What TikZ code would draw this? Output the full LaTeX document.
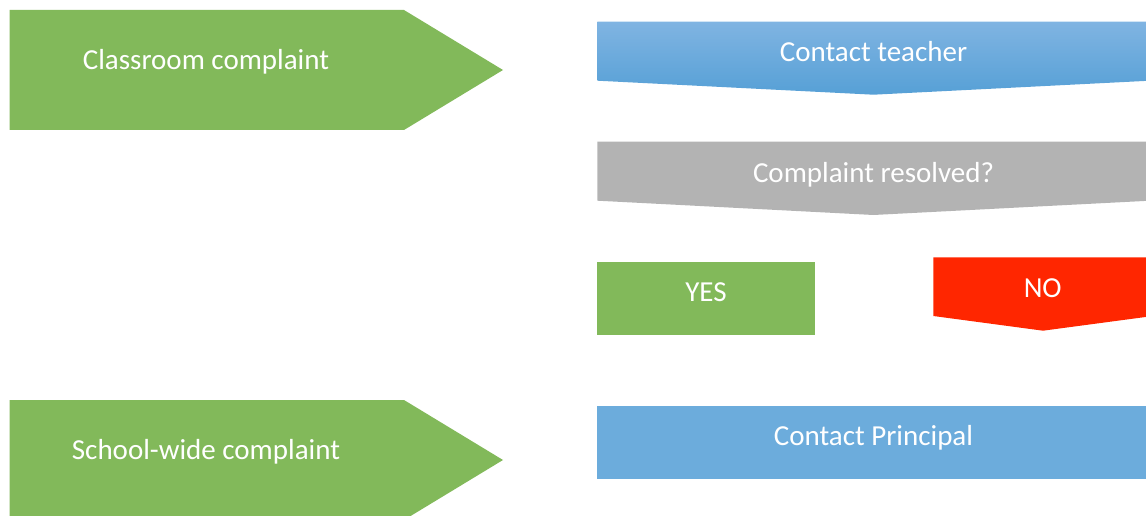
\documentclass[tikz,border=0pt]{standalone}
\usepackage{fontspec}
\setmainfont{Carlito}
\definecolor{fgreen}{RGB}{130,185,90}
\definecolor{fblue}{RGB}{108,172,220}
\definecolor{fbluetop}{RGB}{128,180,226}
\definecolor{fbluebot}{RGB}{86,160,214}
\definecolor{fgray}{RGB}{179,179,179}
\definecolor{fred}{RGB}{255,38,0}
\tikzset{
  lbl/.style={text=white, anchor=base, inner sep=0pt, font=\fontsize{29}{35}\selectfont},
}
\begin{document}
\begin{tikzpicture}[x=1pt,y=-1pt]
\useasboundingbox (0,0) rectangle (1146,516);
\clip (0,0) rectangle (1146,516);
% Classroom complaint pentagon
\fill[fgreen] (9.5,10) -- (404,10) -- (503,70) -- (404,130) -- (9.5,130) -- cycle;
\node[lbl] (classroom) at (206,69.3) {Classroom complaint};
% School-wide complaint pentagon
\fill[fgreen] (9.5,400) -- (404,400) -- (503,460) -- (404,520) -- (9.5,520) -- cycle;
\node[lbl] (schoolwide) at (206,459.3) {School-wide complaint};
% Contact teacher
\shade[top color=fbluetop, bottom color=fbluebot] (597.3,21.7) -- (1150,21.7) -- (1150,80.7) -- (873.5,94.7) -- (597.3,80.7) -- cycle;
\node[lbl] (teacher) at (873.5,61.7) {Contact teacher};
% Complaint resolved?
\fill[fgray] (597.3,141.7) -- (1150,141.7) -- (1150,200.7) -- (873.5,215) -- (597.3,200.7) -- cycle;
\node[lbl] (resolved) at (873.5,182.3) {Complaint resolved?};
% YES
\fill[fgreen] (597.3,261.7) rectangle (815,335);
\node[lbl] (yes) at (706,301.7) {YES};
% NO
\fill[fred] (933.3,257.3) -- (1153,257.3) -- (1153,316) -- (1043,330.7) -- (933.3,316) -- cycle;
\node[lbl] (no) at (1042.7,297) {NO};
% Contact Principal
\fill[fblue] (597.3,406) rectangle (1150,479.3);
\node[lbl] (principal) at (873.5,445) {Contact Principal};
\end{tikzpicture}
\end{document}
